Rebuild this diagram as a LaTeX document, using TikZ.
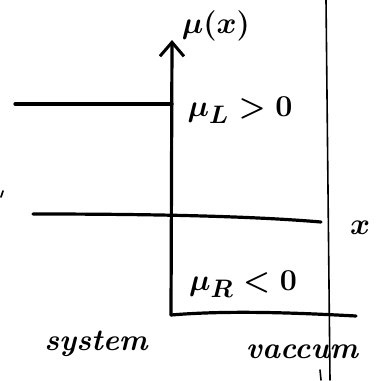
\documentclass[tikz,border=0pt]{standalone}
\usetikzlibrary{arrows.meta}
\newcommand{\biglbl}[1]{\scalebox{1.22}{\Huge\boldmath #1}}
\begin{document}
\begin{tikzpicture}[x=1pt,y=-1pt,
  thickline/.style={line width=3.2pt,line cap=round},
  thinline/.style={line width=1.6pt,line cap=round},
  lbl/.style={inner sep=0pt}]
\useasboundingbox (0,0) rectangle (382,380);
% coordinates
\coordinate (O) at (171,315);
\coordinate (top) at (172,40);
\coordinate (Lstart) at (15,104);
\coordinate (Lend) at (172,104);
\coordinate (Xstart) at (33,214);
\coordinate (Xend) at (321,222);
\coordinate (Bend) at (356,316);
\coordinate (Vtop) at (326,0);
\coordinate (Vbot) at (330,380);
\coordinate (T1) at (320,370);
\coordinate (T2) at (321,380);
\coordinate (C1) at (3,191);
\coordinate (C2) at (1,197);
% lines
\draw[thinline] (Vtop) -- (Vbot);
\draw[thickline,-{Straight Barb[length=14pt,width=24pt,line width=3pt]}] (O) -- (top);
\draw[thickline] (Lstart) -- (Lend);
\draw[thickline] (Xstart) .. controls (150,214) and (250,216) .. (Xend);
\draw[thickline] (O) .. controls (230,310) and (300,313) .. (Bend);
\draw[thinline] (T1) -- (T2);
\draw[thinline] (C1) -- (C2);
% labels
\node[lbl] (mux) at (216,26) {\biglbl{$\mu(x)$}};
\node[lbl] (muL) at (240,110) {\biglbl{$\mu_L > 0$}};
\node[lbl] (xl) at (360,228) {\biglbl{$x$}};
\node[lbl] (muR) at (243,284) {\biglbl{$\mu_R < 0$}};
\node[lbl] (sys) at (96,344) {\biglbl{\bfseries\itshape system}};
\node[lbl] (vac) at (302,352) {\biglbl{\bfseries\itshape vaccum}};
\end{tikzpicture}
\end{document}
